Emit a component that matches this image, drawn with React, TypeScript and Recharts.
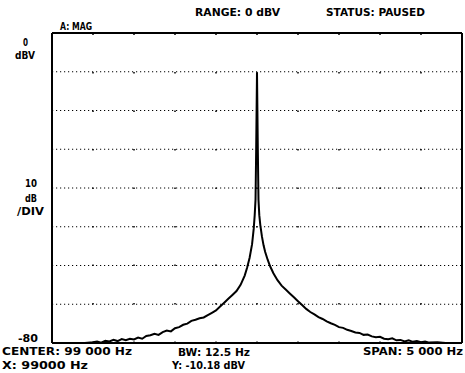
import React from "react";
import { LineChart, Line, XAxis, YAxis, ReferenceLine } from "recharts";

// Frequency (Hz) of each sample
const freqs: number[] = [
  96500, 96700, 96900, 97000, 97050, 97100, 97150, 97200, 97250, 97300, 97350, 97400, 97450, 97500,
  97550, 97600, 97650, 97700, 97750, 97800, 97850, 97900, 97950, 98000, 98050, 98100, 98150, 98200,
  98250, 98300, 98350, 98400, 98450, 98500, 98550, 98600, 98650, 98700, 98750, 98800, 98850, 98880,
  98910, 98940, 98960, 98972, 98982, 98990, 98996, 99000, 99004, 99010, 99018, 99028, 99040, 99060,
  99080, 99100, 99130, 99160, 99200, 99250, 99300, 99350, 99400, 99450, 99500, 99550, 99600, 99650,
  99700, 99750, 99800, 99850, 99900, 99950, 100000, 100050, 100100, 100150, 100200, 100250, 100300,
  100350, 100400, 100450, 100500, 100550, 100600, 100650, 100700, 100750, 100800, 100850, 100900,
  100950, 101000, 101050, 101100, 101200, 101300, 101500,
];

// Magnitude (dBV) of each sample
const magnitudes: number[] = [
  -80, -80, -80, -79.8, -79.6, -79.9, -79.4, -79.6, -79.2, -79.5, -79.0, -79.3, -78.9, -79.1,
  -78.6, -78.9, -78.2, -78.0, -77.6, -77.9, -77.2, -76.8, -77.0, -76.2, -75.9, -75.3, -75.0, -74.3,
  -74.0, -73.6, -73.4, -72.8, -72.2, -71.6, -70.6, -69.6, -68.6, -67.6, -66.6, -65.0, -62.6, -60.5,
  -58.0, -54.5, -50.5, -47, -43, -30, -18, -10.18, -18, -30, -43, -47, -49.5, -52.5,
  -54.8, -56.5, -58.5, -60.2, -62, -63.8, -65.2, -66.2, -67.2, -68.2, -69.2, -70.2, -71.2, -72.0,
  -72.6, -73.3, -73.8, -74.4, -74.9, -75.3, -75.9, -76.1, -76.6, -76.9, -77.3, -77.4, -77.9,
  -77.8, -78.3, -78.5, -78.4, -78.9, -79.0, -78.8, -79.3, -79.2, -79.6, -79.3, -79.7,
  -79.5, -79.8, -79.6, -79.9, -79.8, -80, -80,
];

const xGrid: number[] = [97000, 97500, 98000, 98500, 99000, 99500, 100000, 100500, 101000];
const yGrid: number[] = [-10, -20, -30, -40, -50, -60, -70];

const X_MIN = 96500;
const X_MAX = 101500;
const Y_MIN = -80;
const Y_MAX = 0;

type Lbl = { text: string; x: number; y: number; len: number };
const labels: Lbl[] = [
  { text: "RANGE: 0 dBV", x: 195, y: 16, len: 85 },
  { text: "STATUS: PAUSED", x: 326, y: 16, len: 99 },
  { text: "A: MAG", x: 60, y: 30, len: 32 },
  { text: "0", x: 23, y: 46, len: 5 },
  { text: "dBV", x: 15, y: 59, len: 20 },
  { text: "10", x: 25, y: 187, len: 12 },
  { text: "dB", x: 25, y: 202, len: 12 },
  { text: "/DIV", x: 17, y: 215, len: 27 },
  { text: "-80", x: 18, y: 342, len: 20 },
  { text: "CENTER: 99 000 Hz", x: 2, y: 355, len: 130 },
  { text: "X: 99000 Hz", x: 2, y: 369, len: 86 },
  { text: "BW: 12.5 Hz", x: 178, y: 356, len: 72 },
  { text: "Y: -10.18 dBV", x: 172, y: 369, len: 73 },
  { text: "SPAN: 5 000 Hz", x: 363, y: 355, len: 100 },
];

const data = freqs.map((f, i) => ({ f, v: magnitudes[i] }));

export default function App() {
  return (
    <div style={{ position: "absolute", left: 0, top: 0, width: 465, height: 373, background: "#fff" }}>
      <LineChart
        width={465}
        height={373}
        data={data}
        margin={{ top: 33, right: 3, bottom: 30, left: 52 }}
      >
        <XAxis
          dataKey="f"
          type="number"
          domain={[X_MIN, X_MAX]}
          height={0}
          tick={false}
          axisLine={false}
          tickLine={false}
        />
        <YAxis
          type="number"
          domain={[Y_MIN, Y_MAX]}
          width={0}
          tick={false}
          axisLine={false}
          tickLine={false}
          allowDataOverflow
        />
        {yGrid.map((v) => (
          <ReferenceLine key={"h" + v} y={v} stroke="#000" strokeWidth={1} strokeDasharray="1.2 2.8" />
        ))}
        {xGrid.map((v) => (
          <ReferenceLine key={"v" + v} x={v} stroke="#000" strokeWidth={1.5} strokeDasharray="1.5 37" />
        ))}
        <ReferenceLine x={X_MIN} stroke="#000" strokeWidth={2} />
        <ReferenceLine x={X_MAX} stroke="#000" strokeWidth={2} />
        <ReferenceLine y={Y_MAX} stroke="#000" strokeWidth={2} />
        <ReferenceLine y={Y_MIN} stroke="#000" strokeWidth={2} />
        <Line
          type="linear"
          dataKey="v"
          stroke="#000"
          strokeWidth={2}
          dot={false}
          isAnimationActive={false}
        />
      </LineChart>
      <svg
        width={465}
        height={373}
        style={{ position: "absolute", left: 0, top: 0, pointerEvents: "none" }}
      >
        {labels.map((l, i) => (
          <text
            key={i}
            x={l.x}
            y={l.y}
            textLength={l.len}
            lengthAdjust="spacingAndGlyphs"
            fontFamily="DejaVu Sans"
            fontWeight="bold"
            fontSize={10}
            fill="#000"
          >
            {l.text}
          </text>
        ))}
      </svg>
    </div>
  );
}
